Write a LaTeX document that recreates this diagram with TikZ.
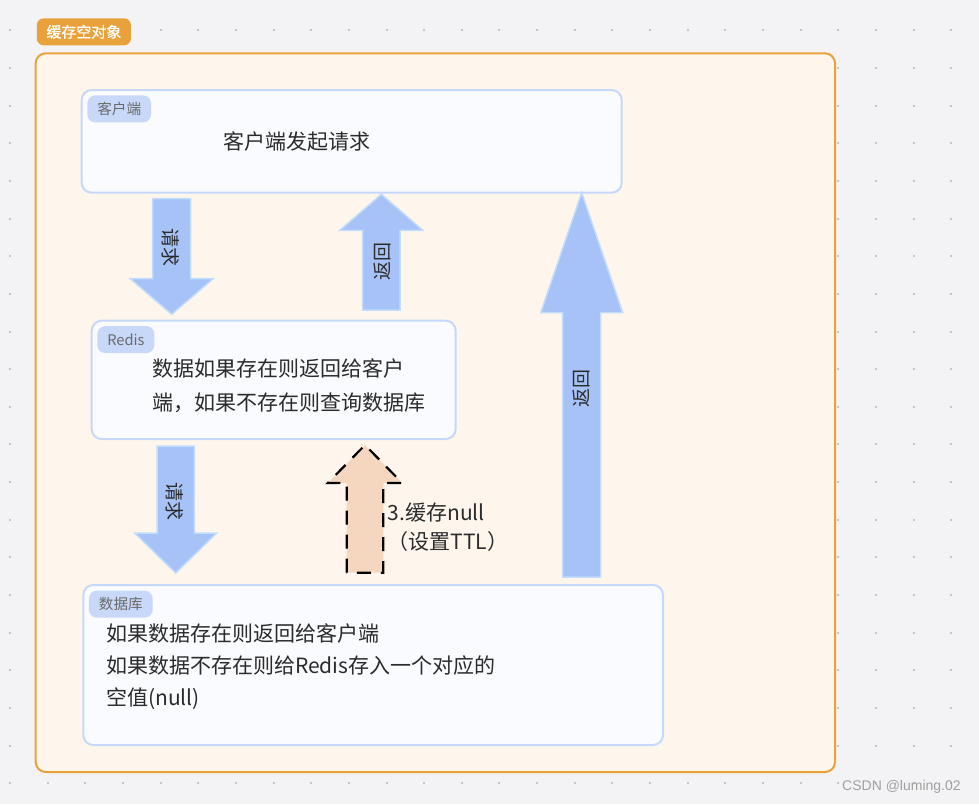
\documentclass[tikz,border=0pt]{standalone}
\usepackage{fontspec}
\newfontfamily\cjk{Noto Sans CJK SC}
\newfontfamily\cjkmid{Noto Sans CJK SC}[FakeBold=0.8]
\newfontfamily\wmfont{Liberation Sans}
\usetikzlibrary{calc}
\definecolor{bgc}{HTML}{F3F3F5}
\definecolor{dotc}{HTML}{C6C6C8}
\definecolor{framec}{HTML}{E9A23B}
\definecolor{framefill}{HTML}{FEF6EC}
\definecolor{boxfill}{HTML}{FAFBFE}
\definecolor{boxline}{HTML}{C5D8F9}
\definecolor{tagfill}{HTML}{C8D8F8}
\definecolor{tagtext}{HTML}{6A6A6A}
\definecolor{arrfill}{HTML}{A6C2F7}
\definecolor{arrline}{HTML}{C2DCFC}
\definecolor{peach}{HTML}{F5D6BF}
\definecolor{txt}{HTML}{2B2B2B}
\definecolor{wmc}{HTML}{A0A0A0}
% block arrow: [style]{tail}{tip}{shaft half}{head half}{head length}
\newcommand{\blockarrow}[6][]{%
  \coordinate (bt) at (#2); \coordinate (bh) at (#3);
  \coordinate (bb) at ($(bh)!#6!(bt)$);
  \draw[barrow,#1] ($(bt)!#4!90:(bh)$) -- ($(bb)!#4!90:(bh)$) -- ($(bb)!#5!90:(bh)$) -- (bh)
    -- ($(bb)!#5!-90:(bh)$) -- ($(bb)!#4!-90:(bh)$) -- ($(bt)!#4!-90:(bh)$) -- cycle;}
\begin{document}
\begin{tikzpicture}[x=1pt, y=1pt,
  box/.style={draw=boxline, fill=boxfill, line width=2pt, rounded corners=10pt, inner sep=0pt, outer sep=0pt},
  tag/.style={fill=tagfill, text=tagtext, rounded corners=8pt, inner xsep=10pt, inner ysep=0pt, minimum height=27pt,
    outer sep=0pt, anchor=north west, font=\cjk\fontsize{14.6}{16}\selectfont},
  txtnode/.style={text=txt, inner sep=0pt, align=left, font=\cjk\fontsize{21}{30}\selectfont},
  arrtxt/.style={text=txt, inner sep=0pt, font=\cjk\fontsize{19}{19}\selectfont},
  barrow/.style={fill=arrfill, draw=arrline, line width=1.5pt},
  nullarrow/.style={fill=peach, draw=black, line width=2.2pt, dash pattern=on 14pt off 10pt}]
 \useasboundingbox (0,0) rectangle (979,-804);
 \fill[bgc] (0,0) rectangle (979,-804);
 \foreach \i in {0,...,25} \foreach \j in {0,...,20}
   \fill[dotc] (10+37.65*\i-1,-30.3-37.65*\j-1) rectangle +(2,2);
 \node[draw=framec, fill=framefill, line width=2pt, rounded corners=10pt, minimum width=799.3pt, minimum height=718.7pt,
   inner sep=0pt, outer sep=0pt] (frame) at (435.35,-412.65) {};
 \node[fill=framec, text=white, rounded corners=7pt, inner xsep=9.6pt, inner ysep=0pt, minimum height=27pt,
   font=\cjkmid\fontsize{15}{16}\selectfont] (title) at (83.85,-31.8) {缓存空对象};

 \node[box, minimum width=540pt, minimum height=102.7pt] (client) at (351.7,-141.35) {};
 \node[box, minimum width=364pt, minimum height=118.3pt] (redis) at (273.7,-379.85) {};
 \node[box, minimum width=579.7pt, minimum height=160pt] (db) at (373.15,-665) {};
 \node[tag] (clienttag) at ($(client.north west)+(5.6,-5.4)$) {客户端};
 \node[tag] (redistag) at ($(redis.north west)+(5.6,-5.4)$) {Redis};
 \node[tag] (dbtag) at ($(db.north west)+(5.6,-5.6)$) {数据库};

 \node[txtnode] (clienttxt) at (297,-141.7) {客户端发起请求};
 \node[txtnode, anchor=west, font=\cjk\fontsize{21}{34.4}\selectfont] (redistxt) at (152.5,-385.5)
   {数据如果存在则返回给客户\\端，如果不存在则查询数据库};
 \node[txtnode, anchor=west, font=\cjk\fontsize{21}{31.7}\selectfont] (dbtxt) at (106,-666.7)
   {如果数据存在则返回给客户端\\如果数据不存在则给Redis存入一个对应的\\空值(null)};

 \blockarrow{$(client.south west)+(90,-6)$}{$(redis.north west)+(80,6.4)$}{19pt}{41.5pt}{35.6pt}
 \blockarrow{$(redis.north west)+(289.6,10.7)$}{$(client.south west)+(299.6,-1.6)$}{18.7pt}{41.5pt}{36pt}
 \blockarrow{$(redis.south west)+(84,-7)$}{$(db.north west)+(92.4,12)$}{18.7pt}{41pt}{40pt}
 \blockarrow[nullarrow]{$(db.north west)+(281.7,12.3)$}{$(redis.south west)+(273.3,-6)$}{18.3pt}{37.2pt}{38pt}
 \blockarrow{$(db.north west)+(498.4,8)$}{$(client.south west)+(500,0)$}{19pt}{41pt}{120pt}

 \node[arrtxt, rotate=-90] (req1) at (170.5,-247.5) {请求};
 \node[arrtxt, rotate=90] (ret1) at (382,-261.7) {返回};
 \node[arrtxt, rotate=-90] (req2) at (175,-501) {请求};
 \node[arrtxt, rotate=90] (ret2) at (581.7,-388) {返回};
 \node[txtnode, anchor=west, font=\cjk\fontsize{21}{28.7}\selectfont] (ttl) at (387.5,-527.3)
   {3.缓存null\\（设置TTL）};

 \node[text=wmc, inner sep=0pt, anchor=west, font=\wmfont\fontsize{14}{14}\selectfont] (wm) at (842,-786.7) {CSDN @luming.02};
\end{tikzpicture}
\end{document}
